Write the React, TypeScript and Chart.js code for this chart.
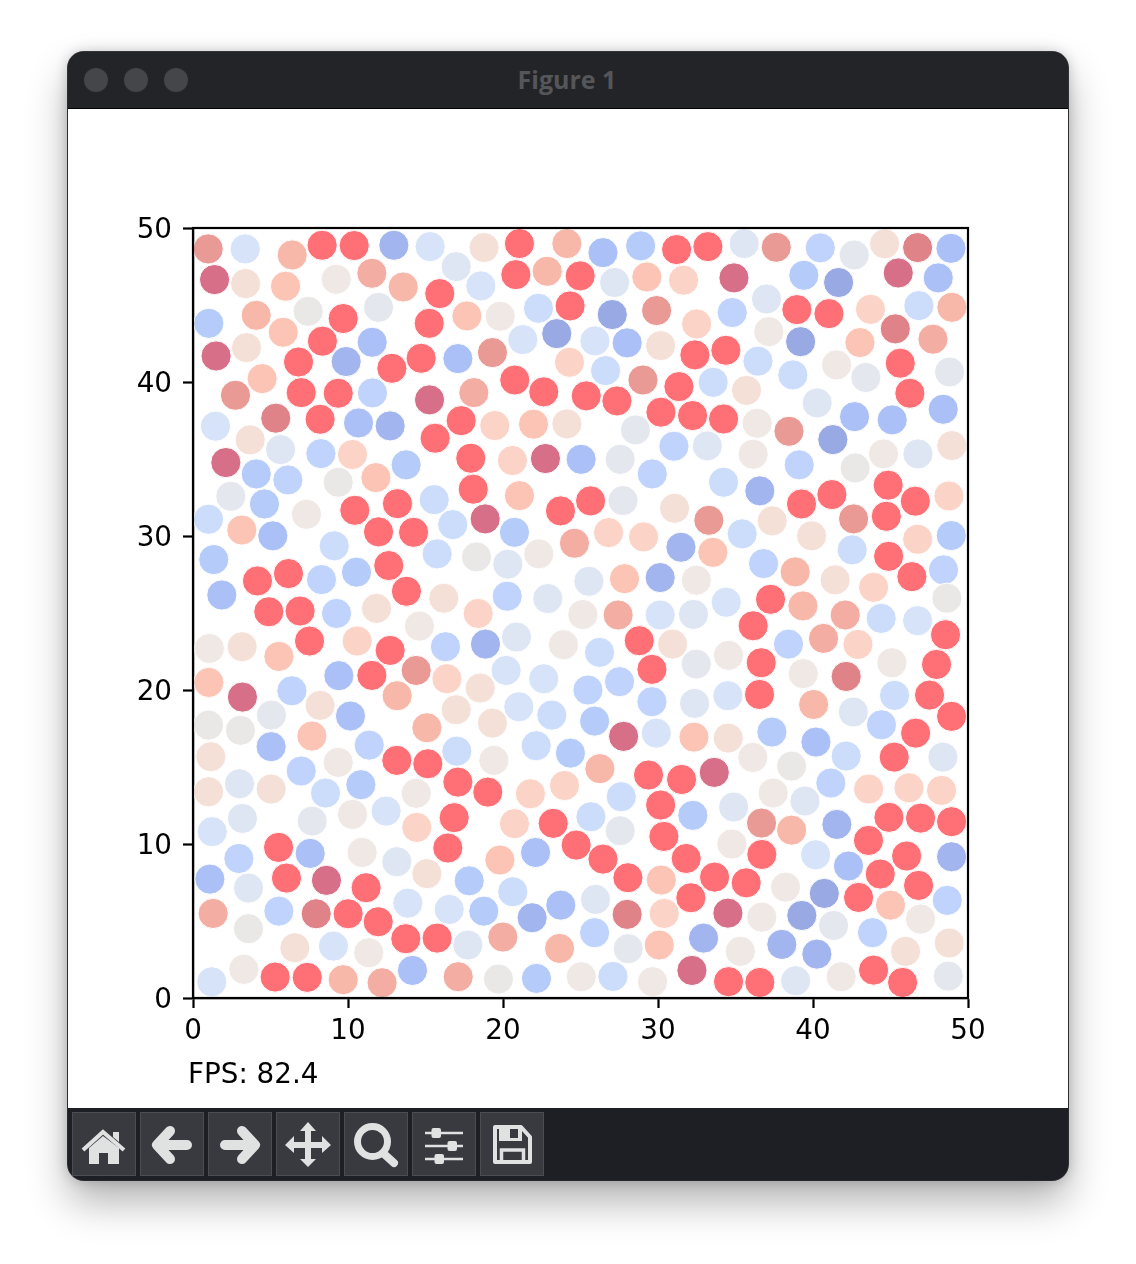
import React, { useEffect, useRef } from "react";
import { Chart, registerables } from "chart.js";

Chart.register(...registerables);

const palette: Record<string, string> = {
  R: "#ff6f76", M: "#d66f87", m: "#df8389", D: "#e99a94", S: "#f4ada2", P: "#f8b8a9", p: "#fbc4b5",
  L: "#fcd3c7", T: "#f5e0d8", E: "#efe8e4", G: "#e9e8e6", g: "#e4e8ee", H: "#dfe6f3", I: "#d6e3f9",
  J: "#cbddfb", K: "#bfd3fd", N: "#b5cbfa", O: "#abc0f6", Q: "#a2b5ee", U: "#99a9e4",
};

const xsNW = [
  0.98,3.37,6.40,8.33,10.40,12.96,15.30,18.78,21.06,24.12,
  1.39,3.39,5.97,9.24,11.54,13.56,15.92,16.98,18.57,20.83,
  22.85,24.98,4.08,7.43,9.69,11.97,1.02,5.82,8.35,15.24,
  17.67,19.82,22.29,24.33,11.56,23.47,21.28,1.49,3.45,6.81,
  9.88,12.83,14.72,17.09,19.32,24.29,4.46,2.74,6.98,9.37,
  11.58,15.26,18.12,20.76,22.63,1.45,5.34,8.20,10.68,12.72,
  15.62,17.30,19.47,21.97,24.12,3.69,5.65,8.25,10.29,2.12,
  4.08,6.12,11.80,13.75,17.92,20.61,22.74,25.04,9.37,2.44,
  4.61,18.08,21.06,15.56,13.19,10.44,7.32,23.71,1.00,3.15,
  5.15,11.97,14.23,16.76,18.85,20.74,9.11,15.75,18.29,20.31,
  22.31,24.61,1.34,12.63,10.55,6.16,4.16,8.29,13.77,1.86,
  16.18,20.27,22.89,4.89,6.91,9.26,11.84,18.40,25.15,
];
const ysNW = [
  48.64,48.64,48.25,48.88,48.86,48.88,48.79,48.73,48.99,48.99,
  46.65,46.39,46.22,46.67,47.06,46.17,45.74,47.49,46.24,46.97,
  47.19,46.89,44.33,44.59,44.12,44.85,43.81,43.23,42.65,43.81,
  44.29,44.27,44.79,44.94,42.58,43.14,42.75,41.69,42.23,41.30,
  41.33,40.89,41.54,41.52,41.91,41.28,40.22,39.14,39.31,39.27,
  39.29,38.84,39.31,40.13,39.36,37.13,37.65,37.58,37.34,37.15,
  36.35,37.49,37.17,37.26,37.28,36.24,35.61,35.35,35.29,34.77,
  34.03,33.64,33.79,34.62,35.05,34.90,35.03,34.98,33.49,32.58,
  32.08,33.04,32.62,32.36,32.10,31.67,31.41,31.63,31.09,30.39,
  30.01,30.27,30.24,30.74,31.11,30.24,29.36,28.84,28.64,28.17,
  28.84,29.53,28.47,28.08,27.65,27.56,27.08,27.17,26.41,26.17,
  25.96,26.09,25.94,25.08,25.13,24.97,25.30,24.97,24.90,
];
const tonesNW =
  "DIPRRQITRP" + "MTpESPRHIR" + "PRPGRgNpRR" + "pEJROUIMTR" + "QRRODLpDRR" +
  "KMSRRImROQ" + "RRLpTTHKLM" + "NKpNRLMOGg" + "NRpJRRERJp" + "ORRJMNJJGH" +
  "ESNRNRRKRO" + "TKHRRKTLE";

const xsNE = [
  26.45,28.88,31.20,33.22,35.56,37.63,40.47,42.66,44.62,46.75,
  48.90,27.20,29.28,31.65,34.90,39.41,41.65,45.50,48.08,27.05,
  29.91,32.49,34.79,37.00,38.96,41.03,43.71,46.83,48.96,37.15,
  25.93,28.01,30.17,32.38,34.38,39.20,43.03,45.31,47.74,26.62,
  29.03,36.45,33.56,31.35,35.71,38.70,41.52,45.63,48.81,43.41,
  25.37,27.35,30.19,32.23,34.23,36.40,38.45,40.27,42.68,45.11,
  46.25,48.40,28.55,31.03,33.18,48.96,41.28,36.14,39.11,44.55,
  46.77,27.56,42.72,29.63,34.23,44.85,36.57,25.65,27.74,41.22,
  39.26,46.60,48.77,31.07,33.28,42.62,44.73,37.37,26.81,29.07,
  35.43,39.91,31.48,33.54,46.75,48.92,42.53,44.88,36.81,38.85,
  41.43,43.91,46.38,48.42,25.54,27.84,30.14,32.47,34.40,37.26,
  39.35,42.08,44.40,46.75,48.64,27.43,30.14,32.29,36.14,
];
const ysNE = [
  48.40,48.84,48.60,48.79,48.99,48.75,48.71,48.25,48.97,48.73,
  48.68,46.46,46.82,46.61,46.76,46.93,46.46,47.08,46.76,44.38,
  44.64,43.77,44.51,45.39,44.70,44.44,44.72,44.96,44.85,43.27,
  42.67,42.54,42.36,41.76,42.06,42.62,42.56,43.45,42.78,40.74,
  40.13,41.35,39.98,39.70,39.46,40.46,41.11,41.22,40.65,40.29,
  39.10,38.77,38.04,37.82,37.60,37.32,36.80,38.64,37.75,37.54,
  39.27,38.23,36.89,35.83,35.85,35.87,36.26,35.31,34.62,35.33,
  35.33,34.98,34.42,34.03,33.49,33.30,32.93,32.28,32.30,32.69,
  32.08,32.26,32.60,31.80,31.02,31.11,31.28,30.98,30.22,29.94,
  30.14,30.01,29.27,28.94,29.79,30.03,29.10,28.68,28.21,27.67,
  27.15,26.67,27.36,27.80,27.06,27.23,27.30,27.13,25.70,25.89,
  25.46,24.87,24.65,24.50,25.96,24.87,24.87,24.91,24.17,
];
const tonesNE =
  "ONRRHDKgTm" + "OHpLMNUMOU" + "DLKHRRLJPE" + "IOTRRUpmSJ" + "DJJRTJERgg" +
  "RRRRREDHOO" + "ROgKHTUEKE" + "HgGKJRQRgR" + "RRLTDDRTLL" + "JTQpLNJRKP" +
  "TLRKHpQEIR" + "PSJIGSIHR";

const xsSW = [
  1.06,3.17,5.54,7.52,10.59,14.61,16.29,18.87,20.87,23.90,
  12.72,14.40,9.41,11.54,16.38,20.20,22.63,18.53,1.02,3.19,
  6.38,8.20,13.17,21.02,23.15,1.00,3.06,5.06,10.16,16.98,
  19.32,15.09,7.67,5.04,11.37,1.15,22.14,24.35,17.02,9.37,
  13.15,15.15,19.41,6.98,17.09,10.83,19.02,1.00,3.00,5.04,
  8.55,14.40,21.77,23.97,12.46,16.85,10.29,7.69,3.19,1.24,
  14.44,20.74,23.24,24.72,5.52,7.56,16.44,10.91,2.96,13.15,
  19.80,22.10,15.09,1.09,3.58,6.03,8.61,11.17,17.82,20.63,
  13.86,23.73,1.30,5.54,7.95,10.01,11.95,16.53,18.76,21.88,
  3.58,13.73,15.75,17.73,19.99,6.57,9.06,11.34,23.65,14.16,
  3.28,5.30,7.37,9.69,12.20,17.11,19.71,22.16,1.21,25.05,
];
const ysSW = [
  22.70,22.81,22.18,23.18,23.18,24.15,22.81,22.98,23.44,22.94,
  22.57,21.27,20.93,20.95,20.73,21.27,20.73,20.13,20.49,19.54,
  19.95,19.00,19.63,18.91,18.37,17.72,17.38,18.37,18.31,18.72,
  17.85,17.55,17.01,16.32,16.42,15.67,16.38,15.90,16.03,15.30,
  15.43,15.21,15.43,14.74,14.02,13.85,13.37,13.39,13.91,13.57,
  13.31,13.29,13.26,13.80,12.14,11.71,11.92,11.49,11.66,10.80,
  11.08,11.32,11.34,9.93,9.78,9.39,9.74,9.45,9.06,8.85,
  8.96,9.45,8.07,7.72,7.14,7.79,7.64,7.16,7.61,6.90,
  6.16,6.03,5.49,5.64,5.47,5.47,4.95,5.75,5.64,5.21,
  4.50,3.85,3.89,3.44,3.96,3.26,3.37,2.94,3.22,1.79,
  1.86,1.36,1.34,1.19,0.99,1.38,1.23,1.27,1.05,1.38,
];
const tonesSW =
  "ETpRLEKQHE" + "RDORLIITpM" + "KTPIJGGgOT" + "TPpOKTJNJE" + "RREKRNRTHT" +
  "JELLIREgHI" + "LLRRROREKH" + "pOTOHRMRNJ" + "IOSKmRRINQ" +
  "GRRHSTIEPO" + "ERRPSSGNIE";

const xsSE = [
  28.79,30.94,26.23,38.42,40.68,42.90,48.55,29.61,32.47,34.55,
  36.66,39.37,42.14,45.09,47.97,25.48,27.52,29.61,32.36,34.51,
  36.55,40.04,42.60,45.26,47.52,48.94,25.91,27.78,29.89,32.32,
  34.53,37.35,44.42,46.62,40.19,42.14,48.38,45.24,36.12,38.62,
  26.25,29.39,31.52,33.63,41.15,43.59,46.19,48.29,37.43,27.63,
  30.17,39.48,25.67,34.88,32.25,36.68,38.62,41.54,44.90,46.94,
  48.94,27.56,30.38,43.58,34.77,40.17,36.70,31.82,46.04,26.45,
  48.94,42.29,28.06,30.21,33.65,35.69,44.34,38.23,40.73,46.81,
  25.97,42.94,48.66,28.01,30.40,32.12,34.51,36.70,39.28,45.00,
  46.94,41.33,25.91,28.08,30.08,32.94,43.84,37.99,35.31,40.25,
  45.97,48.79,27.09,32.19,29.65,34.55,36.57,38.88,41.82,43.91,
  45.78,48.73,
];
const ysSE = [
  23.20,22.98,22.44,22.98,23.35,22.96,23.59,21.34,21.68,22.25,
  21.77,21.06,20.88,21.77,21.66,20.00,20.54,19.24,19.13,19.63,
  19.71,19.06,18.57,19.65,19.67,18.29,17.98,16.99,17.20,16.94,
  16.88,17.27,17.74,17.20,16.62,15.71,15.64,15.64,15.62,15.06,
  14.89,14.48,14.19,14.65,13.96,13.57,13.65,13.48,13.31,13.07,
  12.53,12.79,11.77,12.40,11.86,11.36,10.90,11.27,11.73,11.68,
  11.45,10.86,10.49,10.23,10.00,9.30,9.32,9.06,9.22,9.02,
  9.17,8.57,7.81,7.66,7.85,7.48,8.05,7.20,6.79,7.31,
  6.40,6.53,6.34,5.43,5.49,6.51,5.51,5.25,5.36,6.03,
  5.13,4.71,4.24,3.20,3.44,3.89,4.24,3.48,3.03,2.85,
  3.03,3.57,1.40,1.79,1.06,1.06,1.01,1.12,1.38,1.81,
  1.01,1.42,
];
const tonesSE =
  "RTJKSLRRgE" + "REmERKKKHI" + "RPHJRRNMIp" + "TNKROJHREG" + "PRRMKLLLEJ" +
  "RHJHNDPQRR" + "RgRREIRRRR" + "QORpRRREUR" + "HRKmLRMEUp" + "EgKgpQKQEQ" +
  "TTJMERRHER" + "Rg";

const xValues = [...xsNW, ...xsNE, ...xsSW, ...xsSE];
const yValues = [...ysNW, ...ysNE, ...ysSW, ...ysSE];
const toneKeys = tonesNW + tonesNE + tonesSW + tonesSE;

const axisTicks = [0, 10, 20, 30, 40, 50];
const figureTitle = "Figure 1";
const fpsLabel = "FPS: 82.4";
const tickFont = "27.8px 'DejaVu Sans'";

const frame = {
  id: "frame",
  afterDatasetsDraw(chart: any) {
    const { ctx, chartArea: a, scales } = chart;
    ctx.save();
    ctx.strokeStyle = "#000";
    ctx.lineWidth = 2.2;
    ctx.strokeRect(a.left, a.top, a.right - a.left, a.bottom - a.top);
    ctx.fillStyle = "#000";
    ctx.font = tickFont;
    ctx.textAlign = "right";
    ctx.textBaseline = "middle";
    for (const t of scales.y.ticks) {
      ctx.fillText(String(t.value), a.left - 21, scales.y.getPixelForValue(t.value) + 3);
    }
    ctx.restore();
  },
};

const Btn = ({ x, children }: any) => (
  <div style={{ position: "absolute", left: x, top: 1112, width: 62, height: 62, background: "#393a3f", border: "1px solid #4c4d51" }}>
    <svg width="64" height="64" viewBox="0 0 64 64" style={{ position: "absolute", left: -1, top: -1 }}>{children}</svg>
  </div>
);

const ink = "#e0e1e1";

export default function App() {
  const ref = useRef<HTMLCanvasElement>(null);
  useEffect(() => {
    document.body.style.margin = "0";
    document.body.style.background = "#fff";
    const axis = (extra: any, showLabels: boolean) => ({
      type: "linear",
      min: 0,
      max: 50,
      afterBuildTicks: (s: any) => { s.ticks = axisTicks.map((value) => ({ value })); },
      ticks: { display: showLabels, color: "#000", padding: 7, maxRotation: 0, font: { family: "DejaVu Sans", size: 27.8 } },
      grid: { drawOnChartArea: false, drawTicks: true, tickLength: 10, tickWidth: 2.2, tickColor: "#000" },
      border: { display: true, color: "#000", width: 2.2 },
      ...extra,
    });
    const chart = new Chart(ref.current!, {
      type: "scatter",
      data: {
        datasets: [{
          data: xValues.map((x, i) => ({ x, y: yValues[i] })),
          pointRadius: 15.1,
          pointBorderWidth: 1,
          pointBorderColor: "#ffffff",
          pointBackgroundColor: xValues.map((_, i) => palette[toneKeys[i]] ?? "#e9e8e6"),
          clip: false,
        }],
      },
      options: {
        animation: false,
        responsive: false,
        layout: { padding: { top: 119, right: 100, left: 0, bottom: 0 } },
        plugins: { legend: { display: false }, tooltip: { enabled: false } },
        scales: {
          x: axis({ afterFit: (s: any) => { s.height = 110; } }, true),
          y: axis({ afterFit: (s: any) => { s.width = 125; } }, false),
        },
      } as any,
      plugins: [frame],
    });
    return () => chart.destroy();
  }, []);

  return (
    <div style={{ position: "relative", width: 1136, height: 1264, overflow: "hidden", background: "#fff" }}>
      <div style={{ position: "absolute", left: 68, top: 52, width: 1000, height: 1128, borderRadius: 16, background: "#1e1f24", boxShadow: "0 22px 40px rgba(0,0,0,0.30), 0 0 14px rgba(0,0,0,0.22), 0 0 0 1px #3c3d41" }} />
      <div style={{ position: "absolute", left: 68, top: 52, width: 1000, height: 56, background: "#232428", borderRadius: "16px 16px 0 0", borderBottom: "1px solid #000", boxSizing: "content-box" }} />
      {[96, 136, 176].map((c) => (
        <div key={c} style={{ position: "absolute", left: c - 12, top: 68, width: 24, height: 24, borderRadius: "50%", background: "#45464a" }} />
      ))}
      <div style={{ position: "absolute", left: 68, width: 998, top: 62, textAlign: "center", font: "700 25px/34px 'Open Sans'", color: "#55565a" }}>{figureTitle}</div>
      <canvas ref={ref} width={1000} height={999} style={{ position: "absolute", left: 68, top: 109, width: 1000, height: 999, background: "#fff", display: "block" }} />
      <div style={{ position: "absolute", left: 188, top: 1057, font: "27.8px/34px 'DejaVu Sans'", color: "#000" }}>{fpsLabel}</div>
      <Btn x={72}>
        <path d="M11 38 L31 20 L52 38" fill="none" stroke={ink} strokeWidth="4" />
        <path d="M17 36 L31 24 L47 36 V52 H36 V41 H27 V52 H17 Z" fill={ink} />
        <path d="M41 20 H47 V30 L41 25 Z" fill={ink} />
      </Btn>
      <Btn x={140}>
        <path d="M30 19 L17 33 L30 47 M18 33 H47" fill="none" stroke={ink} strokeWidth="10" strokeLinecap="round" strokeLinejoin="round" />
      </Btn>
      <Btn x={208}>
        <path d="M34 19 L47 33 L34 47 M46 33 H17" fill="none" stroke={ink} strokeWidth="10" strokeLinecap="round" strokeLinejoin="round" />
      </Btn>
      <Btn x={276}>
        <path d="M32 10 L40 19 H35 V30 H46 V24 L55 33 L46 41 V36 H35 V47 H40 L32 55 L24 47 H29 V36 H18 V41 L9 33 L18 24 V30 H29 V19 H24 Z" fill={ink} />
      </Btn>
      <Btn x={344}>
        <circle cx="28.5" cy="29.5" r="15" fill="none" stroke={ink} strokeWidth="7" />
        <path d="M39 41 L50 51" stroke={ink} strokeWidth="8" strokeLinecap="round" />
      </Btn>
      <Btn x={412}>
        <path d="M13 21 H51 M13 34 H51 M13 47 H51" stroke={ink} strokeWidth="2.7" />
        <rect x="19.5" y="16" width="9.5" height="10" rx="2" fill={ink} />
        <rect x="35.5" y="29" width="9.5" height="10" rx="2" fill={ink} />
        <rect x="22.5" y="42" width="9.5" height="10" rx="2" fill={ink} />
      </Btn>
      <Btn x={480}>
        <path d="M15 15 H41 L50 25 V50 H15 Z" fill="none" stroke={ink} strokeWidth="4" strokeLinejoin="round" />
        <path d="M19 15 H42 V29 H19 Z" fill={ink} />
        <rect x="30" y="17" width="8" height="9" fill="#393a3f" />
        <rect x="21.5" y="38" width="22" height="12" fill="none" stroke={ink} strokeWidth="3.5" />
      </Btn>
    </div>
  );
}
